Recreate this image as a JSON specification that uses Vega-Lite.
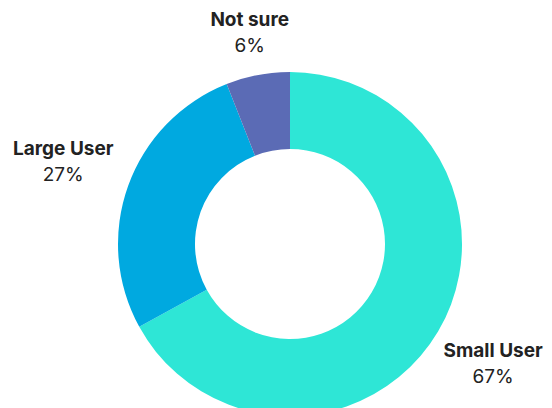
{
  "$schema": "https://vega.github.io/schema/vega-lite/v6.json",
  "width": 400,
  "height": 328,
  "autosize": "none",
  "padding": {"left": 90, "top": 80, "right": 62, "bottom": 0},
  "background": "white",
  "config": {"view": {"stroke": null}},
  "data": {
    "values": [
      {"name": "Small User", "pct": 67, "label": "67%", "ord": 1},
      {"name": "Large User", "pct": 27, "label": "27%", "ord": 2},
      {"name": "Not sure", "pct": 6, "label": "6%", "ord": 3}
    ]
  },
  "encoding": {
    "theta": {"field": "pct", "type": "quantitative", "stack": true},
    "order": {"field": "ord", "type": "quantitative"}
  },
  "layer": [
    {
      "mark": {"type": "arc", "outerRadius": 172, "innerRadius": 95},
      "encoding": {
        "color": {
          "field": "name",
          "type": "nominal",
          "scale": {"domain": ["Small User", "Large User", "Not sure"], "range": ["#2EE6D6", "#00A9E0", "#5B6BB5"]},
          "legend": null
        }
      }
    },
    {
      "mark": {"type": "text", "radius": 236, "font": "Inter", "fontWeight": "bold", "fontSize": 19, "fill": "#222222", "dy": -13, "baseline": "middle", "align": "center"},
      "encoding": {"text": {"condition": {"test": "datum.name === 'Small User'", "field": "name"}, "value": ""}}
    },
    {
      "mark": {"type": "text", "radius": 236, "font": "Inter", "fontSize": 19, "fill": "#222222", "dy": 13, "baseline": "middle", "align": "center"},
      "encoding": {"text": {"condition": {"test": "datum.name === 'Small User'", "field": "label"}, "value": ""}}
    },
    {
      "mark": {"type": "text", "radius": 241, "font": "Inter", "fontWeight": "bold", "fontSize": 19, "fill": "#222222", "dy": -13, "baseline": "middle", "align": "center"},
      "encoding": {"text": {"condition": {"test": "datum.name === 'Large User'", "field": "name"}, "value": ""}}
    },
    {
      "mark": {"type": "text", "radius": 241, "font": "Inter", "fontSize": 19, "fill": "#222222", "dy": 13, "baseline": "middle", "align": "center"},
      "encoding": {"text": {"condition": {"test": "datum.name === 'Large User'", "field": "label"}, "value": ""}}
    },
    {
      "mark": {"type": "text", "radius": 215, "font": "Inter", "fontWeight": "bold", "fontSize": 19, "fill": "#222222", "dy": -13, "baseline": "middle", "align": "center"},
      "encoding": {"text": {"condition": {"test": "datum.name === 'Not sure'", "field": "name"}, "value": ""}}
    },
    {
      "mark": {"type": "text", "radius": 215, "font": "Inter", "fontSize": 19, "fill": "#222222", "dy": 13, "baseline": "middle", "align": "center"},
      "encoding": {"text": {"condition": {"test": "datum.name === 'Not sure'", "field": "label"}, "value": ""}}
    }
  ]
}
